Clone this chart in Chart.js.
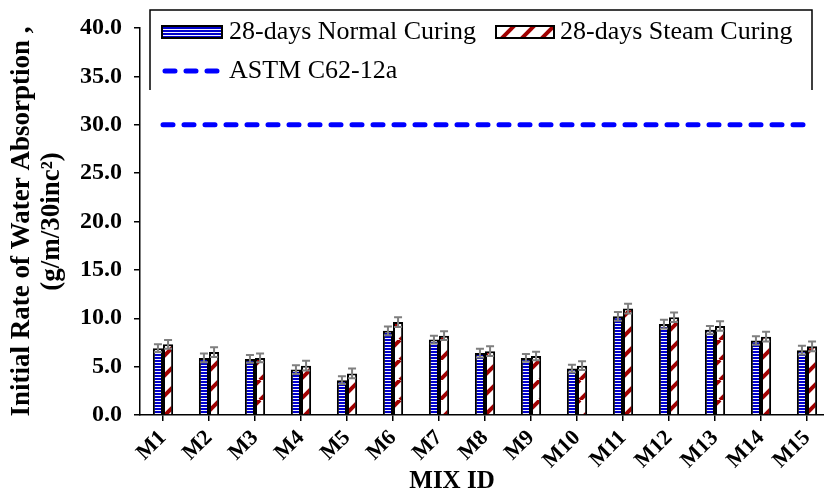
<!DOCTYPE html>
<html>
<head>
<meta charset="utf-8">
<script src="https://cdn.jsdelivr.net/npm/chart.js@4"></script>
<style>
  html, body { margin: 0; padding: 0; background: #fff; }
  #wrap { width: 824px; height: 497px; overflow: hidden; }
</style>
</head>
<body>
<div id="wrap"><canvas id="absorption" width="832" height="497"></canvas></div>
<script>
const FONT = "'Liberation Serif', 'Times New Roman', serif";
const BLUE = "#0000cc";
const DARK_RED = "#a00000";

const mixIds = ["M1", "M2", "M3", "M4", "M5", "M6", "M7", "M8", "M9", "M10", "M11", "M12", "M13", "M14", "M15"];
const normalCuring = [6.9, 5.9, 5.8, 4.7, 3.6, 8.7, 7.8, 6.4, 5.9, 4.8, 10.2, 9.4, 8.8, 7.7, 6.7];
const steamCuring = [7.3, 6.5, 5.9, 5.1, 4.3, 9.6, 8.2, 6.6, 6.1, 5.1, 11.0, 10.1, 9.2, 8.1, 7.1];
const normalError = [0.4, 0.45, 0.4, 0.45, 0.4, 0.45, 0.4, 0.45, 0.4, 0.4, 0.45, 0.45, 0.4, 0.45, 0.45];
const steamError = [0.45, 0.5, 0.45, 0.5, 0.5, 0.5, 0.45, 0.5, 0.45, 0.45, 0.5, 0.5, 0.5, 0.5, 0.5];
const astmLimit = [30, 30, 30, 30, 30, 30, 30, 30, 30, 30, 30, 30, 30, 30, 30];

// horizontal blue/white stripes
function stripePattern() {
  const c = document.createElement("canvas");
  c.width = 4;
  c.height = 3;
  const g = c.getContext("2d");
  g.fillStyle = "#f4f4ff";
  g.fillRect(0, 0, 4, 3);
  g.fillStyle = BLUE;
  g.fillRect(0, 0, 4, 2);
  return g.createPattern(c, "repeat");
}

// dark red "/" stripes on white
function diagonalPattern() {
  const s = 20;
  const c = document.createElement("canvas");
  c.width = s;
  c.height = s;
  const g = c.getContext("2d");
  g.fillStyle = "#ffffff";
  g.fillRect(0, 0, s, s);
  g.strokeStyle = DARK_RED;
  g.lineWidth = 4;
  for (const o of [-s, 0, s]) {
    g.beginPath();
    g.moveTo(o, s);
    g.lineTo(o + s, 0);
    g.stroke();
  }
  return g.createPattern(c, "repeat");
}

const normalFill = stripePattern();
const steamFill = diagonalPattern();

const errorBars = {
  id: "errorBars",
  afterDatasetsDraw(chart) {
    const { ctx } = chart;
    const y = chart.scales.y;
    ctx.save();
    ctx.strokeStyle = "#7f7f7f";
    ctx.lineWidth = 2;
    chart.data.datasets.forEach((ds, i) => {
      if (!ds.errors) return;
      chart.getDatasetMeta(i).data.forEach((bar, j) => {
        const top = y.getPixelForValue(ds.data[j] + ds.errors[j]);
        const bottom = y.getPixelForValue(ds.data[j] - ds.errors[j]);
        ctx.beginPath();
        ctx.moveTo(bar.x, top);
        ctx.lineTo(bar.x, bottom);
        ctx.moveTo(bar.x - 4, top);
        ctx.lineTo(bar.x + 4, top);
        ctx.moveTo(bar.x - 4, bottom);
        ctx.lineTo(bar.x + 4, bottom);
        ctx.stroke();
      });
    });
    ctx.restore();
  },
};

// boxed legend in the upper part of the plot plus the x-axis title
const boxLegend = {
  id: "boxLegend",
  afterDraw(chart) {
    const { ctx, chartArea } = chart;
    const ds = chart.data.datasets;
    ctx.save();
    ctx.strokeStyle = "#000";
    ctx.lineWidth = 1.5;
    ctx.beginPath();
    ctx.moveTo(150, 90);
    ctx.lineTo(150, 10);
    ctx.lineTo(812, 10);
    ctx.lineTo(812, 90);
    ctx.stroke();

    ctx.font = `26px ${FONT}`;
    ctx.fillStyle = "#000";
    ctx.textBaseline = "middle";

    ctx.fillStyle = normalFill;
    ctx.fillRect(162, 26, 60, 12);
    ctx.strokeStyle = "#000";
    ctx.lineWidth = 2;
    ctx.strokeRect(162, 26, 60, 12);
    ctx.fillStyle = "#000";
    ctx.fillText(ds[0].label, 229, 32);

    ctx.fillStyle = steamFill;
    ctx.fillRect(496, 26, 58, 12);
    ctx.strokeRect(496, 26, 58, 12);
    ctx.fillStyle = "#000";
    ctx.fillText(ds[1].label, 560, 32);

    ctx.strokeStyle = ds[2].borderColor;
    ctx.lineWidth = ds[2].borderWidth;
    ctx.lineCap = "round";
    ctx.setLineDash(ds[2].borderDash);
    ctx.beginPath();
    ctx.moveTo(165, 71);
    ctx.lineTo(222, 71);
    ctx.stroke();
    ctx.setLineDash([]);
    ctx.fillText(ds[2].label, 229, 71);

    ctx.font = `bold 25px ${FONT}`;
    ctx.textAlign = "center";
    ctx.fillText("MIX ID", chartArea.left + 312, 482);
    ctx.restore();
  },
};

new Chart(document.getElementById("absorption"), {
  type: "bar",
  data: {
    labels: mixIds,
    datasets: [
      {
        label: "28-days Normal Curing",
        data: normalCuring,
        errors: normalError,
        backgroundColor: normalFill,
        borderColor: "#000",
        borderWidth: 2,
        categoryPercentage: 0.44,
        barPercentage: 1.0,
      },
      {
        label: "28-days Steam Curing",
        data: steamCuring,
        errors: steamError,
        backgroundColor: steamFill,
        borderColor: "#000",
        borderWidth: 2,
        categoryPercentage: 0.44,
        barPercentage: 1.0,
      },
      {
        type: "line",
        label: "ASTM C62-12a",
        data: astmLimit,
        borderColor: "#0000ff",
        borderWidth: 5,
        borderDash: [10, 11],
        borderCapStyle: "round",
        pointRadius: 0,
        fill: false,
      },
    ],
  },
  options: {
    responsive: false,
    animation: false,
    layout: { padding: { top: 28, right: 2, left: 0, bottom: 0 } },
    plugins: {
      legend: { display: false },
      tooltip: { enabled: false },
    },
    scales: {
      x: {
        afterFit: (scale) => { scale.height = 82; },
        grid: { offset: false, drawOnChartArea: false, color: "#000", lineWidth: 1.5, tickLength: 6 },
        border: { color: "#000", width: 1.5 },
        ticks: {
          color: "#000",
          font: { family: FONT, size: 22, weight: "bold" },
          minRotation: 45,
          maxRotation: 45,
          padding: 4,
          autoSkip: false,
        },
      },
      y: {
        min: 0,
        max: 40,
        afterFit: (scale) => { scale.width = 140; },
        grid: { drawOnChartArea: false, color: "#000", lineWidth: 1.5, tickLength: 6 },
        border: { color: "#000", width: 1.5 },
        ticks: {
          stepSize: 5,
          color: "#000",
          padding: 12,
          font: { family: FONT, size: 24, weight: "bold" },
          callback: (v) => v.toFixed(1),
        },
        title: {
          display: true,
          text: ["Initial Rate of Water Absorption ,", "(g/m/30inc\u00b2)"],
          color: "#000",
          font: { family: FONT, size: 27, weight: "bold", lineHeight: 1.1 },
          padding: { top: 7, bottom: 0 },
        },
      },
    },
  },
  plugins: [errorBars, boxLegend],
});
</script>
</body>
</html>
